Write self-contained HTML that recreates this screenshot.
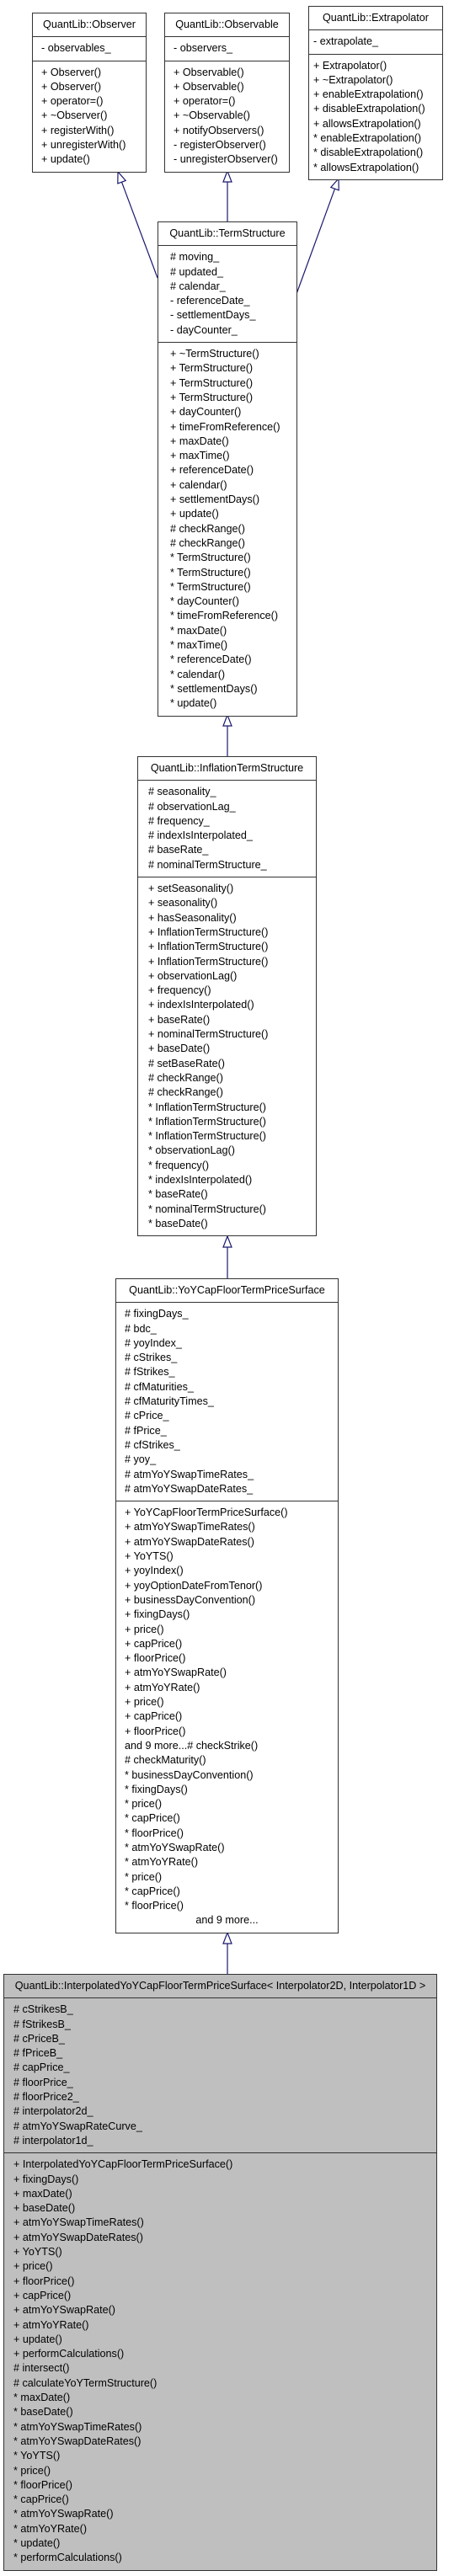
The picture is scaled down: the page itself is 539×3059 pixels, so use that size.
<!DOCTYPE html>
<html><head><meta charset="utf-8">
<style>
html,body{margin:0;padding:0;background:#fff;}
body{width:539px;height:3059px;position:relative;overflow:hidden;font-family:"Liberation Sans",Arial,sans-serif;font-size:12.6px;color:#000;}
.box{position:absolute;border:1px solid #333;background:#fff;box-sizing:border-box;}
.gray{background:#bfbfbf;}
.sec{border-top:1px solid #333;box-sizing:border-box;padding:5px 0 5px 0;}
.sec:first-child{border-top:none;}
.t{text-align:center;white-space:nowrap;}
.l{height:17.3px;line-height:17.3px;white-space:pre;}
.c{text-align:center;}
svg{position:absolute;left:0;top:0;}
</style></head><body>

<svg width="539" height="3059" viewBox="0 0 539 3059">
<g stroke="#191970" stroke-width="1.2" fill="#fff">
<line x1="144.5" y1="216.2" x2="187" y2="330"/>
<polygon points="140,204 139.8,217.9 149.2,214.5"/>
<line x1="270" y1="216" x2="270" y2="263"/>
<polygon points="270,203 265,216 275,216"/>
<line x1="397.5" y1="224.2" x2="352" y2="349"/>
<polygon points="402,212 392.8,222.5 402.2,225.9"/>
<line x1="270" y1="862" x2="270" y2="898"/>
<polygon points="270,849 265,862 275,862"/>
<line x1="270" y1="1481" x2="270" y2="1518"/>
<polygon points="270,1468 265,1481 275,1481"/>
<line x1="270" y1="2308" x2="270" y2="2344"/>
<polygon points="270,2295 265,2308 275,2308"/>
</g>
</svg>

<div class="box" style="left:38px;top:15px;width:136px;">
 <div class="sec"><div class="l t">QuantLib::Observer</div></div>
 <div class="sec" style="padding-left:10px"><div class="l">- observables_</div></div>
 <div class="sec" style="padding-left:10px">
  <div class="l">+ Observer()</div><div class="l">+ Observer()</div><div class="l">+ operator=()</div><div class="l">+ ~Observer()</div><div class="l">+ registerWith()</div><div class="l">+ unregisterWith()</div><div class="l">+ update()</div>
 </div>
</div>

<div class="box" style="left:195px;top:15px;width:149px;">
 <div class="sec"><div class="l t">QuantLib::Observable</div></div>
 <div class="sec" style="padding-left:10px"><div class="l">- observers_</div></div>
 <div class="sec" style="padding-left:10px">
  <div class="l">+ Observable()</div><div class="l">+ Observable()</div><div class="l">+ operator=()</div><div class="l">+ ~Observable()</div><div class="l">+ notifyObservers()</div><div class="l">- registerObserver()</div><div class="l">- unregisterObserver()</div>
 </div>
</div>

<div class="box" style="left:366px;top:7px;width:160px;">
 <div class="sec"><div class="l t">QuantLib::Extrapolator</div></div>
 <div class="sec" style="padding-left:5px"><div class="l">- extrapolate_</div></div>
 <div class="sec" style="padding-left:5px">
  <div class="l">+ Extrapolator()</div><div class="l">+ ~Extrapolator()</div><div class="l">+ enableExtrapolation()</div><div class="l">+ disableExtrapolation()</div><div class="l">+ allowsExtrapolation()</div><div class="l">* enableExtrapolation()</div><div class="l">* disableExtrapolation()</div><div class="l">* allowsExtrapolation()</div>
 </div>
</div>

<div class="box" style="left:187px;top:263px;width:166px;">
 <div class="sec"><div class="l t">QuantLib::TermStructure</div></div>
 <div class="sec" style="padding-left:14px">
  <div class="l"># moving_</div><div class="l"># updated_</div><div class="l"># calendar_</div><div class="l">- referenceDate_</div><div class="l">- settlementDays_</div><div class="l">- dayCounter_</div>
 </div>
 <div class="sec" style="padding-left:14px">
  <div class="l">+ ~TermStructure()</div><div class="l">+ TermStructure()</div><div class="l">+ TermStructure()</div><div class="l">+ TermStructure()</div><div class="l">+ dayCounter()</div><div class="l">+ timeFromReference()</div><div class="l">+ maxDate()</div><div class="l">+ maxTime()</div><div class="l">+ referenceDate()</div><div class="l">+ calendar()</div><div class="l">+ settlementDays()</div><div class="l">+ update()</div><div class="l"># checkRange()</div><div class="l"># checkRange()</div><div class="l">* TermStructure()</div><div class="l">* TermStructure()</div><div class="l">* TermStructure()</div><div class="l">* dayCounter()</div><div class="l">* timeFromReference()</div><div class="l">* maxDate()</div><div class="l">* maxTime()</div><div class="l">* referenceDate()</div><div class="l">* calendar()</div><div class="l">* settlementDays()</div><div class="l">* update()</div>
 </div>
</div>

<div class="box" style="left:163px;top:898px;width:213px;">
 <div class="sec"><div class="l t">QuantLib::InflationTermStructure</div></div>
 <div class="sec" style="padding-left:12px">
  <div class="l"># seasonality_</div><div class="l"># observationLag_</div><div class="l"># frequency_</div><div class="l"># indexIsInterpolated_</div><div class="l"># baseRate_</div><div class="l"># nominalTermStructure_</div>
 </div>
 <div class="sec" style="padding-left:12px">
  <div class="l">+ setSeasonality()</div><div class="l">+ seasonality()</div><div class="l">+ hasSeasonality()</div><div class="l">+ InflationTermStructure()</div><div class="l">+ InflationTermStructure()</div><div class="l">+ InflationTermStructure()</div><div class="l">+ observationLag()</div><div class="l">+ frequency()</div><div class="l">+ indexIsInterpolated()</div><div class="l">+ baseRate()</div><div class="l">+ nominalTermStructure()</div><div class="l">+ baseDate()</div><div class="l"># setBaseRate()</div><div class="l"># checkRange()</div><div class="l"># checkRange()</div><div class="l">* InflationTermStructure()</div><div class="l">* InflationTermStructure()</div><div class="l">* InflationTermStructure()</div><div class="l">* observationLag()</div><div class="l">* frequency()</div><div class="l">* indexIsInterpolated()</div><div class="l">* baseRate()</div><div class="l">* nominalTermStructure()</div><div class="l">* baseDate()</div>
 </div>
</div>

<div class="box" style="left:137px;top:1518px;width:265px;">
 <div class="sec"><div class="l t">QuantLib::YoYCapFloorTermPriceSurface</div></div>
 <div class="sec" style="padding-left:10px">
  <div class="l"># fixingDays_</div><div class="l"># bdc_</div><div class="l"># yoyIndex_</div><div class="l"># cStrikes_</div><div class="l"># fStrikes_</div><div class="l"># cfMaturities_</div><div class="l"># cfMaturityTimes_</div><div class="l"># cPrice_</div><div class="l"># fPrice_</div><div class="l"># cfStrikes_</div><div class="l"># yoy_</div><div class="l"># atmYoYSwapTimeRates_</div><div class="l"># atmYoYSwapDateRates_</div>
 </div>
 <div class="sec" style="padding-left:10px">
  <div class="l">+ YoYCapFloorTermPriceSurface()</div><div class="l">+ atmYoYSwapTimeRates()</div><div class="l">+ atmYoYSwapDateRates()</div><div class="l">+ YoYTS()</div><div class="l">+ yoyIndex()</div><div class="l">+ yoyOptionDateFromTenor()</div><div class="l">+ businessDayConvention()</div><div class="l">+ fixingDays()</div><div class="l">+ price()</div><div class="l">+ capPrice()</div><div class="l">+ floorPrice()</div><div class="l">+ atmYoYSwapRate()</div><div class="l">+ atmYoYRate()</div><div class="l">+ price()</div><div class="l">+ capPrice()</div><div class="l">+ floorPrice()</div><div class="l">and 9 more...# checkStrike()</div><div class="l"># checkMaturity()</div><div class="l">* businessDayConvention()</div><div class="l">* fixingDays()</div><div class="l">* price()</div><div class="l">* capPrice()</div><div class="l">* floorPrice()</div><div class="l">* atmYoYSwapRate()</div><div class="l">* atmYoYRate()</div><div class="l">* price()</div><div class="l">* capPrice()</div><div class="l">* floorPrice()</div><div class="l c" style="margin-left:-10px">and 9 more...</div>
 </div>
</div>

<div class="box gray" style="left:4px;top:2344px;width:515px;">
 <div class="sec"><div class="l t">QuantLib::InterpolatedYoYCapFloorTermPriceSurface&lt; Interpolator2D, Interpolator1D &gt;</div></div>
 <div class="sec" style="padding-left:11px">
  <div class="l"># cStrikesB_</div><div class="l"># fStrikesB_</div><div class="l"># cPriceB_</div><div class="l"># fPriceB_</div><div class="l"># capPrice_</div><div class="l"># floorPrice_</div><div class="l"># floorPrice2_</div><div class="l"># interpolator2d_</div><div class="l"># atmYoYSwapRateCurve_</div><div class="l"># interpolator1d_</div>
 </div>
 <div class="sec" style="padding-left:11px">
  <div class="l">+ InterpolatedYoYCapFloorTermPriceSurface()</div><div class="l">+ fixingDays()</div><div class="l">+ maxDate()</div><div class="l">+ baseDate()</div><div class="l">+ atmYoYSwapTimeRates()</div><div class="l">+ atmYoYSwapDateRates()</div><div class="l">+ YoYTS()</div><div class="l">+ price()</div><div class="l">+ floorPrice()</div><div class="l">+ capPrice()</div><div class="l">+ atmYoYSwapRate()</div><div class="l">+ atmYoYRate()</div><div class="l">+ update()</div><div class="l">+ performCalculations()</div><div class="l"># intersect()</div><div class="l"># calculateYoYTermStructure()</div><div class="l">* maxDate()</div><div class="l">* baseDate()</div><div class="l">* atmYoYSwapTimeRates()</div><div class="l">* atmYoYSwapDateRates()</div><div class="l">* YoYTS()</div><div class="l">* price()</div><div class="l">* floorPrice()</div><div class="l">* capPrice()</div><div class="l">* atmYoYSwapRate()</div><div class="l">* atmYoYRate()</div><div class="l">* update()</div><div class="l">* performCalculations()</div>
 </div>
</div>

</body></html>
